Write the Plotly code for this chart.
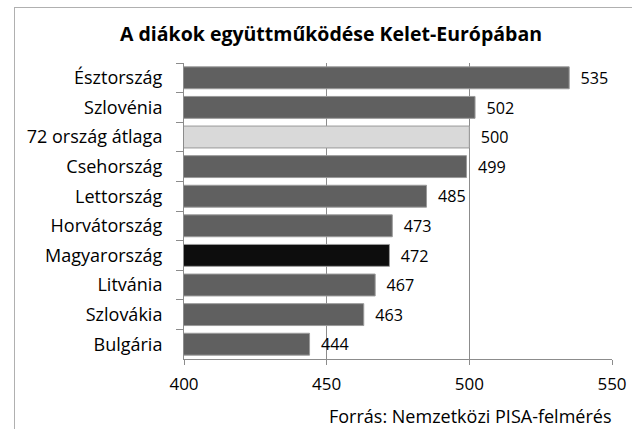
import plotly.graph_objects as go

categories = ["Észtország", "Szlovénia", "72 ország átlaga", "Csehország", "Lettország",
              "Horvátország", "Magyarország", "Litvánia", "Szlovákia", "Bulgária"]
values = [535, 502, 500, 499, 485, 473, 472, 467, 463, 444]
bar_colors = ["#606060", "#606060", "#d9d9d9", "#606060", "#606060",
              "#606060", "#0d0d0d", "#606060", "#606060", "#606060"]
x_ticks = [400, 450, 500, 550]

FONT = "'Open Sans', sans-serif"
FS = 17

W, H = 632, 429
L, R, T, B = 184, 20, 63, 70
PW, PH = W - L - R, H - T - B

fig = go.Figure(go.Bar(
    y=categories, x=values, orientation="h",
    marker=dict(color=bar_colors, line=dict(color="#9a9a9a", width=1)),
    texttemplate="  %{x}",
    textposition="outside", cliponaxis=False,
    textfont=dict(family=FONT, size=FS, color="#000000"),
))

fig.update_layout(
    width=W, height=H,
    margin=dict(l=L, r=R, t=T, b=B, autoexpand=False),
    paper_bgcolor="white", plot_bgcolor="white",
    bargap=0.26,
    showlegend=False,
    font=dict(family=FONT, size=FS, color="#000000"),
    title=dict(text="<b>A diákok együttműködése Kelet-Európában</b>",
               x=331 / W, xanchor="center", y=1 - 34 / H, yanchor="middle",
               font=dict(family=FONT, size=19.5, color="#000000")),
    xaxis=dict(range=[400, 550], tickvals=x_ticks, ticktext=[str(t) for t in x_ticks],
               showgrid=True, gridcolor="#8c8c8c", gridwidth=1,
               showline=True, linecolor="#8c8c8c", linewidth=1,
               ticks="outside", ticklen=5, tickcolor="#8c8c8c",
               ticklabelstandoff=5,
               zeroline=False, automargin=False,
               tickfont=dict(family=FONT, size=FS, color="#000000")),
    yaxis=dict(autorange="reversed", showgrid=False,
               showline=True, linecolor="#8c8c8c", linewidth=1,
               ticks="outside", ticklen=7, tickcolor="#8c8c8c",
               tickson="boundaries", ticklabelstandoff=17, automargin=False,
               tickfont=dict(family=FONT, size=18, color="#000000")),
    shapes=[dict(type="rect", xref="paper", yref="paper",
                 x0=(14.5 - L) / PW, x1=1 + (R + 10) / PW,
                 y0=-(B + 10) / PH, y1=1 + (T - 7.5) / PH,
                 line=dict(color="#b0b0b0", width=1), fillcolor="rgba(0,0,0,0)", layer="below")],
    annotations=[
        dict(text="Forrás: Nemzetközi PISA-felmérés", xref="paper", yref="paper",
             x=(613 - L) / PW, y=-(57) / PH, xanchor="right", yanchor="middle",
             showarrow=False, font=dict(family=FONT, size=18, color="#000000")),
        dict(text=" ", xref="paper", yref="paper",
             x=(14 - L) / PW, y=1 + (T - 7) / PH, xanchor="left", yanchor="top",
             width=W, height=H, borderpad=0, borderwidth=1, bordercolor="#b0b0b0",
             bgcolor="rgba(0,0,0,0)", showarrow=False),
    ],
)

fig.write_html("out.html", config={"displayModeBar": False},
               post_script="document.body.style.margin='0px';")
